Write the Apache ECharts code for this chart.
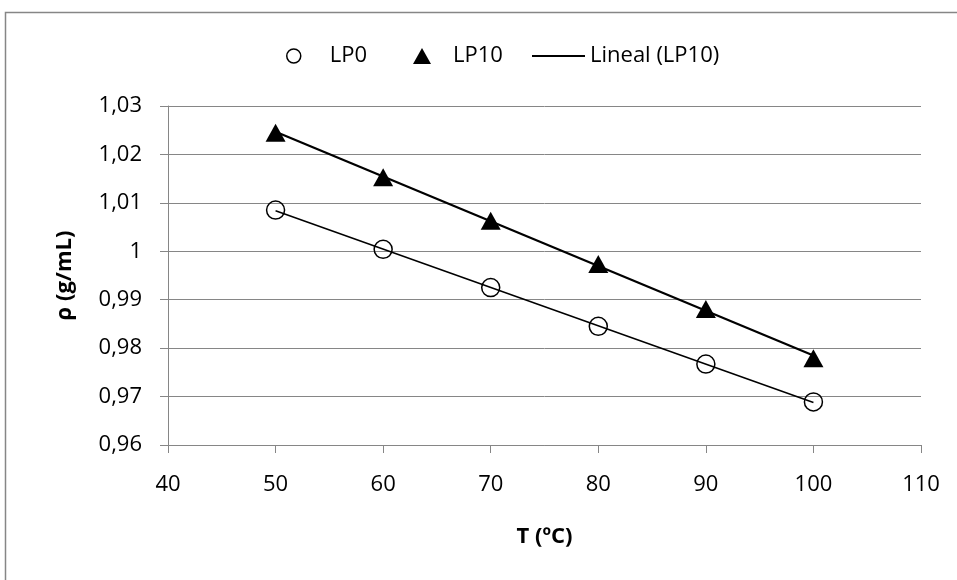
<!DOCTYPE html>
<html>
<head>
<meta charset="utf-8">
<script src="https://cdn.jsdelivr.net/npm/echarts@6/dist/echarts.min.js"></script>
<style>
html,body{margin:0;padding:0;background:#fff;}
#c{width:957px;height:580px;}
</style>
</head>
<body>
<div id="c"></div>
<script>
// Data
const temps = [50, 60, 70, 80, 90, 100];
const lp0 = [1.0085, 1.0004, 0.9925, 0.9845, 0.9767, 0.9689];
const lp10 = [1.0245, 1.0153, 1.0063, 0.9974, 0.9881, 0.9779];
const xTicks = [40, 50, 60, 70, 80, 90, 100, 110];
const yTicks = [0.96, 0.97, 0.98, 0.99, 1.00, 1.01, 1.02, 1.03];
const seriesNames = ['LP0', 'LP10', 'Lineal (LP10)'];

function linFit(xs, ys) {
  const n = xs.length;
  const mx = xs.reduce((a, b) => a + b, 0) / n;
  const my = ys.reduce((a, b) => a + b, 0) / n;
  let sxy = 0, sxx = 0;
  for (let i = 0; i < n; i++) { sxy += (xs[i] - mx) * (ys[i] - my); sxx += (xs[i] - mx) ** 2; }
  const b = sxy / sxx, a = my - b * mx;
  const x0 = Math.min(...xs), x1 = Math.max(...xs);
  return [[x0, a + b * x0], [x1, a + b * x1]];
}

const FONT = 'Open Sans';
const FS = 22;
const chart = echarts.init(document.getElementById('c'));
const fmtY = v => String(+(+v).toFixed(2)).replace('.', ',');
const legText = pad => ({ fontFamily: FONT, fontSize: FS, color: '#000', padding: [0, 0, 0, pad] });

chart.setOption({
  backgroundColor: '#fff',
  animation: false,
  textStyle: { fontFamily: FONT, color: '#000' },
  graphic: [{
    type: 'rect', shape: { x: 5.5, y: 12.5, width: 1000, height: 700 },
    style: { fill: 'none', stroke: '#868686', lineWidth: 1.5 }, silent: true, z: -10
  }],
  legend: [
    { data: [{ name: seriesNames[0], icon: 'circle', itemStyle: { color: '#fff', borderColor: '#000', borderWidth: 1.5, opacity: 1 } }],
      left: 281, top: 40, itemWidth: 14, itemHeight: 14, textStyle: legText(24) },
    { data: [{ name: seriesNames[1], icon: 'triangle', itemStyle: { color: '#000', opacity: 1 } }],
      left: 408, top: 40, itemWidth: 18, itemHeight: 16, textStyle: legText(17) },
    { data: [{ name: seriesNames[2], icon: 'rect', itemStyle: { color: '#000', opacity: 1 } }],
      left: 527, top: 40, itemWidth: 53, itemHeight: 2, textStyle: legText(0) }
  ],
  grid: { left: 168, right: 36, top: 106, bottom: 135 },
  xAxis: {
    type: 'value', min: xTicks[0], max: xTicks[xTicks.length - 1], interval: 10,
    name: 'T (ºC)', nameLocation: 'middle', nameGap: 81,
    nameTextStyle: { fontFamily: FONT, fontSize: 22, fontWeight: 'bold', color: '#000' },
    axisLine: { lineStyle: { color: '#868686', width: 1 } },
    axisTick: { show: true, length: 8, lineStyle: { color: '#868686' } },
    axisLabel: { fontFamily: FONT, fontSize: FS, color: '#000', margin: 29 },
    splitLine: { show: false }
  },
  yAxis: {
    type: 'value', min: yTicks[0], max: yTicks[yTicks.length - 1], interval: 0.01,
    name: 'ρ (g/mL)', nameLocation: 'middle', nameGap: 92, nameRotate: 90,
    nameTextStyle: { fontFamily: FONT, fontSize: 22, fontWeight: 'bold', color: '#000' },
    axisLine: { show: true, lineStyle: { color: '#868686', width: 1 } },
    axisTick: { show: true, length: 8, lineStyle: { color: '#868686' } },
    axisLabel: { fontFamily: FONT, fontSize: FS, color: '#000', margin: 26, formatter: fmtY },
    splitLine: { show: true, lineStyle: { color: '#868686', width: 1 } }
  },
  series: [
    { name: 'lp0fit', type: 'line', data: linFit(temps, lp0), showSymbol: false, symbol: 'none',
      lineStyle: { color: '#000', width: 1.5 }, z: 2, silent: true },
    { name: seriesNames[2], type: 'line', data: linFit(temps, lp10), showSymbol: false, symbol: 'none',
      lineStyle: { color: '#000', width: 2.2 }, itemStyle: { color: '#000' }, z: 2 },
    { name: seriesNames[0], type: 'scatter', data: temps.map((t, i) => [t, lp0[i]]),
      symbol: 'circle', symbolSize: 18,
      itemStyle: { color: 'rgba(255,255,255,0)', borderColor: '#000', borderWidth: 1.5, opacity: 1 }, z: 3 },
    { name: seriesNames[1], type: 'scatter', data: temps.map((t, i) => [t, lp10[i]]),
      symbol: 'triangle', symbolSize: [20, 18],
      itemStyle: { color: '#000', opacity: 1 }, z: 3 }
  ]
});
</script>
</body>
</html>
